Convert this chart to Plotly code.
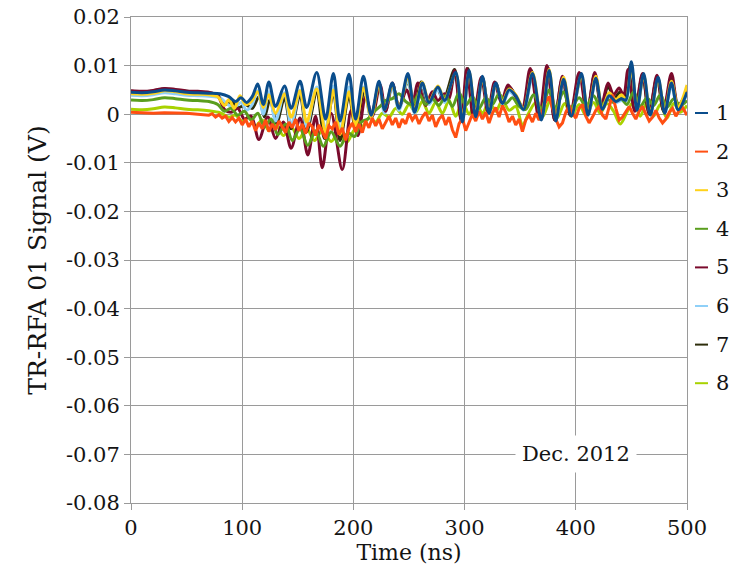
import plotly.graph_objects as go

# ---- TR-RFA 01 signals, Dec. 2012 (time in ns, signal in mV) ----
t1 = [0, 10, 20, 30, 40, 50, 60, 70, 80, 88, 94, 99, 104, 109, 114, 119, 124, 130, 138, 144,
      152, 158, 167, 175, 182, 188, 196, 202, 209, 216, 223, 228, 235, 241, 249, 255, 262, 268,
      276, 282, 292, 298, 304, 310, 316, 322, 328, 334, 340, 346, 353, 361, 369, 376, 382, 389,
      396, 405, 411, 418, 424, 430, 436, 441, 445, 450, 455, 461, 467, 474, 480, 486, 492, 500]
v1 = [4.5, 4.4, 4.6, 5.0, 4.8, 4.5, 4.4, 4.3, 4.2, 3.6, 2.6, 3.4, 2.4, 3.6, 6.2, 2.0, 6.6, 1.6,
      5.8, 1.2, 6.8, 1.4, 8.6, -1.0, 8.4, -1.4, 8.2, -1.0, 7.8, -0.2, 6.8, 0.9, 6.4, 1.2, 8.4,
      0.4, 6.4, 2.4, 5.6, 2.8, 8.6, -1.6, 9.0, -0.5, 7.8, 0.2, 6.4, 2.2, 5.0, 3.8, 1.0, 8.4,
      -1.2, 9.0, -1.4, 7.2, -0.4, 8.4, -0.2, 7.4, 1.0, 3.8, 2.6, 3.2, 2.9, 10.8, 0.8, 8.4,
      -0.2, 7.6, 0.2, 6.4, 0.9, 4.5]

t2 = [0, 10, 20, 30, 40, 50, 60, 70, 73, 76, 79, 82, 85, 88, 91, 94, 97, 100, 103, 106, 109,
      112, 115, 118, 121, 124, 127, 130, 133, 136, 139, 142, 145, 148, 151, 154, 157, 160, 163,
      166, 169, 172, 175, 178, 181, 184, 187, 190, 193, 196, 199, 202, 205, 208, 211, 214, 217,
      220, 223, 226, 229, 232, 235, 238, 241, 244, 247, 250, 253, 256, 259, 262, 265, 268, 271,
      274, 277, 280, 283, 286, 289, 292, 295, 298, 301, 304, 307, 310, 313, 316, 319, 322, 325,
      328, 331, 334, 337, 340, 343, 346, 349, 352, 355, 358, 361, 364, 367, 370, 373, 376, 379,
      382, 385, 388, 391, 394, 397, 400, 403, 406, 409, 412, 415, 418, 421, 424, 427, 430, 433,
      436, 439, 442, 445, 448, 451, 454, 457, 460, 463, 466, 469, 472, 475, 478, 481, 484, 487,
      490, 493, 496, 500]
v2 = [0.4, 0.3, 0.2, 0.3, 0.3, 0.2, 0.0, -0.2, 0.1, -0.6, -0.1, -0.8, -0.4, -1.5, -0.7, -1.6,
      -0.8, -2.2, -1.0, -2.6, -1.4, -3.4, -1.8, -3.0, -1.2, -3.6, -2.0, -3.2, -1.4, -2.6, -3.8,
      -1.6, -2.8, -1.0, -3.4, -2.0, -4.0, -1.8, -2.6, -4.4, -2.2, -3.6, -5.0, -2.4, -3.0, -1.6,
      -4.2, -2.8, -5.4, -3.0, -1.8, -3.6, -2.0, -3.8, -1.4, -2.8, -0.8, -2.4, -1.0, -3.0, -1.6,
      -0.4, -2.2, -0.8, -2.8, -1.0, -2.0, 0.2, -1.2, -0.2, -2.0, -0.6, 0.4, -1.4, -0.2, -2.6,
      -1.0, -0.2, -2.2, -0.6, -3.2, -4.8, -2.0, -0.8, -3.4, -1.6, 0.0, -1.4, 0.6, -1.0, 0.4,
      -1.8, 0.2, 1.4, -0.6, 1.8, 0.4, -1.6, -0.4, -2.2, -1.0, -3.6, -1.2, -0.2, -1.6, 0.2, -1.2,
      0.6, 2.6, 3.6, 1.0, -1.0, -2.6, -1.8, 0.4, 1.8, 0.2, -0.8, 1.2, 2.0, -0.4, -1.8, -0.6,
      0.8, 1.6, -0.2, -1.0, 1.8, 4.0, 1.2, -1.2, -0.6, 0.4, 1.6, 0.2, -1.0, 0.6, 1.6, 0.0,
      -1.4, -0.6, 0.8, -0.8, -1.8, -1.0, 0.4, 1.2, -0.4, 0.8, 1.4, -0.2]

t3 = [0, 10, 20, 30, 40, 50, 60, 70, 78, 84, 88, 93, 98, 103, 108, 114, 119, 124, 130, 138,
      144, 152, 158, 167, 175, 182, 188, 196, 202, 209, 216, 223, 228, 235, 241, 249, 255, 262,
      268, 276, 282, 292, 298, 304, 310, 316, 322, 328, 334, 340, 346, 353, 361, 369, 376, 382,
      389, 396, 405, 411, 418, 424, 430, 436, 441, 445, 450, 455, 461, 467, 474, 480, 486, 492,
      500]
v3 = [4.2, 4.1, 4.3, 4.8, 4.6, 4.2, 4.1, 4.0, 3.6, 1.8, 3.0, 1.2, 3.8, 2.0, 2.6, 4.6, 1.4, 4.0,
      0.2, 4.2, -0.6, 4.8, -1.6, 5.2, -3.8, 5.0, -4.2, 4.6, -2.4, 5.4, -0.6, 6.2, 1.0, 6.0, 1.4,
      7.8, 0.8, 6.6, 2.6, 5.8, 3.0, 8.4, -1.0, 8.8, 0.0, 7.4, 0.6, 6.2, 2.6, 5.2, 4.0, 1.2, 8.6,
      -0.8, 9.2, -1.0, 7.6, 0.0, 8.0, 0.2, 7.8, 1.2, 4.4, 3.0, 4.0, 3.0, 9.6, 1.2, 8.0, 0.2,
      7.2, 0.6, 6.8, 1.4, 6.0]

t4 = [0, 10, 20, 30, 40, 50, 60, 70, 78, 84, 90, 96, 102, 108, 114, 120, 126, 132, 139, 145,
      152, 159, 166, 173, 180, 188, 195, 201, 207, 213, 218, 224, 229, 235, 241, 247, 253, 259,
      265, 271, 277, 283, 289, 295, 301, 307, 313, 319, 325, 331, 337, 343, 349, 355, 362, 369,
      376, 382, 389, 395, 403, 409, 416, 422, 428, 434, 440, 446, 452, 458, 464, 470, 476, 482,
      488, 494, 500]
v4 = [2.9, 2.8, 3.0, 3.4, 3.2, 2.9, 2.8, 2.6, 2.0, 0.6, 1.2, -0.2, 0.6, -1.2, 0.2, -2.6, -1.0,
      -4.2, -2.0, -5.4, -3.0, -6.4, -3.4, -6.6, -3.6, -6.6, -3.8, -4.6, -1.6, -1.0, 0.4, 1.6,
      2.8, 3.2, 4.2, 2.6, 2.0, 4.2, 2.0, 3.2, 1.8, 3.8, 1.6, 4.4, 1.8, 3.6, 1.2, 3.4, 2.0, 4.2,
      2.2, 3.4, 1.6, 1.0, 4.0, 1.2, 5.0, 1.4, 4.6, 1.2, 3.4, 1.6, 3.8, 1.4, 3.0, 2.4, 3.4, 2.0,
      4.6, 1.6, 3.4, 1.8, 4.0, 1.4, 3.2, 1.8, 2.8]

t5 = [0, 10, 20, 30, 40, 50, 60, 70, 78, 84, 90, 96, 102, 108, 115, 123, 130, 137, 144, 152,
      159, 166, 172, 180, 190, 198, 204, 211, 217, 224, 229, 235, 241, 248, 253, 258, 265, 271,
      276, 282, 286, 291, 297, 302, 308, 315, 321, 327, 333, 339, 346, 352, 359, 367, 374, 381,
      388, 395, 403, 410, 417, 423, 429, 434, 439, 443, 447, 453, 460, 466, 473, 479, 486, 492,
      500]
v5 = [4.8, 4.7, 4.9, 5.3, 5.1, 4.8, 4.7, 4.5, 3.8, 1.0, 0.4, 1.2, -1.0, -0.4, -5.2, -0.6, -5.0,
      -1.6, -7.0, -0.8, -8.4, -0.4, -11.0, 0.2, -11.4, 0.8, -4.4, 3.6, -0.4, 6.0, 0.6, 6.4, 1.6,
      5.0, 2.0, 6.4, 1.8, 4.6, 2.8, 4.2, 3.2, 9.0, -1.4, 9.4, -0.6, 7.6, 0.4, 6.6, 2.4, 6.0,
      3.6, 1.4, 9.4, -1.0, 10.0, -1.2, 7.8, -0.2, 8.6, 0.0, 8.6, 1.8, 6.4, 4.0, 5.4, 3.8, 9.2,
      0.6, 8.4, 0.2, 8.0, 0.8, 8.4, 2.0, 4.6]

t6 = [0, 10, 20, 30, 40, 50, 60, 70, 80, 87, 93, 99, 104, 109, 114, 119, 124, 130, 138, 144,
      152, 158, 167, 175, 182, 188, 196, 202, 209, 216, 223, 228, 235, 241, 249, 255, 262, 268,
      276, 282, 292, 298, 304, 310, 316, 322, 328, 334, 340, 346, 353, 361, 369, 376, 382, 389,
      396, 405, 411, 418, 424, 430, 436, 441, 445, 450, 455, 461, 467, 474, 480, 486, 492, 500]
v6 = [3.9, 3.8, 4.0, 4.4, 4.2, 3.9, 3.8, 3.7, 3.4, 2.0, 1.4, 2.4, 0.8, 2.0, 4.8, 0.0, 4.6, -1.4,
      4.4, -2.4, 5.0, -2.6, 5.6, -3.0, 5.8, -3.4, 5.6, -2.0, 5.6, -1.0, 5.6, 0.2, 5.4, 0.8, 7.0,
      0.2, 5.8, 2.0, 5.0, 2.4, 7.6, -1.2, 8.2, -0.4, 7.0, 0.4, 5.8, 2.0, 4.6, 3.4, 0.8, 7.6,
      -1.0, 8.4, -1.2, 6.6, -0.2, 7.6, 0.0, 6.8, 1.6, 3.4, 2.4, 2.8, 2.6, 9.8, 0.8, 7.6, 0.0,
      7.0, 0.6, 5.8, 1.0, 4.2]

t7 = [0, 10, 20, 30, 40, 50, 60, 70, 78, 85, 91, 97, 103, 109, 115, 120, 125, 131, 138, 144,
      152, 158, 167, 174, 182, 188, 196, 202, 210, 216, 223, 229, 235, 241, 249, 255, 261, 267,
      275, 281, 291, 297, 303, 309, 316, 322, 328, 334, 340, 346, 353, 360, 368, 375, 381, 388,
      395, 404, 410, 417, 423, 429, 435, 440, 444, 449, 454, 460, 466, 473, 479, 486, 492, 500]
v7 = [4.7, 4.6, 4.8, 5.2, 5.0, 4.7, 4.6, 4.4, 3.9, 2.0, 2.4, 1.4, 2.0, 1.2, 3.6, -0.6, 3.0, -1.8,
      3.4, -3.0, 4.0, -3.6, 4.4, -5.0, 4.4, -5.4, 3.8, -3.0, 5.0, -0.8, 6.0, 0.8, 6.2, 1.4, 6.8,
      1.6, 6.6, 2.2, 5.4, 3.0, 9.2, -1.2, 9.4, -0.4, 7.6, 0.4, 6.4, 2.4, 5.6, 3.8, 1.2, 9.0,
      -1.0, 9.6, -1.2, 7.4, -0.2, 8.4, 0.0, 8.2, 1.4, 5.6, 3.4, 4.6, 3.4, 10.0, 0.8, 8.2, 0.0,
      7.6, 0.6, 7.2, 1.4, 5.0]

t8 = [0, 10, 20, 30, 40, 50, 60, 70, 80, 88, 94, 100, 106, 112, 118, 124, 130, 137, 144, 151,
      158, 165, 172, 180, 187, 194, 201, 208, 214, 220, 226, 232, 238, 244, 250, 256, 262, 268,
      274, 280, 286, 292, 298, 304, 310, 316, 322, 328, 334, 340, 346, 352, 358, 364, 370, 377,
      383, 390, 396, 403, 409, 416, 422, 428, 434, 440, 446, 452, 458, 464, 470, 476, 482, 488,
      494, 500]
v8 = [1.0, 0.9, 1.1, 1.5, 1.3, 1.0, 0.9, 0.7, 0.3, -0.6, -0.2, -1.4, -0.6, -2.4, -1.2, -3.4,
      -2.0, -4.4, -2.6, -5.0, -3.0, -5.4, -3.4, -5.6, -3.6, -5.8, -3.2, -2.6, -0.8, -1.6, 0.2,
      -0.6, 1.2, 0.0, 2.0, 0.4, 2.6, 0.2, 2.4, 0.2, 2.8, -0.4, 2.6, 0.0, 2.4, 0.2, 2.6, 0.6,
      2.8, 0.8, 1.6, -2.2, 0.4, 2.4, -0.6, 2.8, -0.8, 2.2, -0.4, 2.0, -0.2, 2.4, 0.2, 2.2, 0.6,
      -2.0, 0.4, 2.6, -0.4, 2.4, -0.4, 2.0, -0.8, 2.2, 0.4, 1.8]

names = ["1", "2", "3", "4", "5", "6", "7", "8"]
colors = ["#0a4d8c", "#ff4f12", "#ffd21a", "#5a9e1e", "#7a0a2c", "#8fd0f8", "#2e2e0c", "#a8d200"]
times = [t1, t2, t3, t4, t5, t6, t7, t8]
values = [v1, v2, v3, v4, v5, v6, v7, v8]

# axis ticks
x_ticks = [0, 100, 200, 300, 400, 500]
y_ticks = [0.02, 0.01, 0.0, -0.01, -0.02, -0.03, -0.04, -0.05, -0.06, -0.07, -0.08]
y_tick_text = ["0.02", "0.01", "0", "-0.01", "-0.02", "-0.03", "-0.04", "-0.05",
               "-0.06", "-0.07", "-0.08"]

FONT = "DejaVu Serif"
GRID = "#9a9a9a"
INK = "#141414"

fig = go.Figure()
# later series drawn first so series 1 sits on top
for i in reversed(range(8)):
    fig.add_trace(go.Scatter(
        x=times[i], y=[v / 1000.0 for v in values[i]],
        mode="lines", name=names[i],
        line=dict(color=colors[i], width=3,
                  shape="linear" if i == 1 else "spline", smoothing=0.9),
        showlegend=False,
    ))

# legend drawn as short line samples with labels on the right
x0, y0, w, h = 131, 17, 556, 486
for i in range(8):
    ypx = 113 + i * 38.6
    yp = (y0 + h - ypx) / h
    fig.add_shape(type="line", xref="paper", yref="paper",
                  x0=(695 - x0) / w, x1=(708 - x0) / w, y0=yp, y1=yp,
                  line=dict(color=colors[i], width=2))
    fig.add_annotation(xref="paper", yref="paper", x=(714 - x0) / w, y=yp,
                       text=names[i], showarrow=False, xanchor="left", yanchor="middle",
                       font=dict(family=FONT, size=21, color=INK))

fig.add_annotation(x=400, y=-0.07, text="Dec. 2012", showarrow=False,
                   xanchor="center", yanchor="middle", bgcolor="white", borderpad=6,
                   font=dict(family=FONT, size=21, color=INK))

fig.update_layout(
    width=744, height=566,
    margin=dict(l=131, r=57, t=17, b=63),
    plot_bgcolor="white", paper_bgcolor="white",
    font=dict(family=FONT, size=21, color=INK),
)
fig.update_xaxes(range=[0, 500], tickvals=x_ticks, ticktext=[str(v) for v in x_ticks],
                 automargin=False,
                 showgrid=True, gridcolor=GRID, gridwidth=1, zeroline=False,
                 showline=True, linecolor=GRID, linewidth=1, mirror=True,
                 ticks="outside", ticklen=6, tickcolor=GRID,
                 tickfont=dict(family=FONT, size=21, color=INK),
                 title=dict(text="Time (ns)", font=dict(family=FONT, size=22, color=INK),
                            standoff=0))
fig.update_yaxes(range=[-0.08, 0.02], tickvals=y_ticks, ticktext=y_tick_text,
                 automargin=False,
                 showgrid=True, gridcolor=GRID, gridwidth=1, zeroline=False,
                 showline=True, linecolor=GRID, linewidth=1, mirror=True,
                 ticks="outside", ticklen=6, tickcolor=GRID,
                 tickfont=dict(family=FONT, size=21, color=INK),
                 title=dict(text="TR-RFA 01 Signal (V)", font=dict(family=FONT, size=25, color=INK),
                            standoff=12))

fig.write_html("out.html")
